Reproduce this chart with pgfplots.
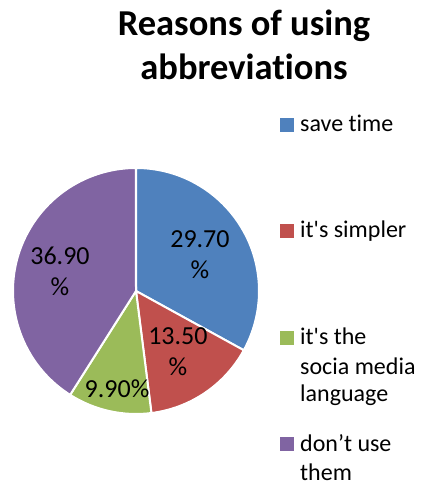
\documentclass[border=0pt]{standalone}
\usepackage{pgfplots}
\pgfplotsset{compat=1.18}
\usepackage{fontspec}
\setmainfont{Carlito}[Ligatures={TeXOff,NoCommon}]
\definecolor{cblue}{HTML}{4F81BD}
\definecolor{cred}{HTML}{C0504D}
\definecolor{cgreen}{HTML}{9BBB59}
\definecolor{cpurple}{HTML}{8064A2}
\begin{document}
\begin{tikzpicture}[x=1pt,y=1pt]
\useasboundingbox (0,0) rectangle (426,485);
% title
\node[anchor=base,font=\fontsize{36.5}{44}\selectfont\bfseries,inner sep=0] at (244,449) {Reasons of using};
\node[anchor=base,font=\fontsize{36.5}{44}\selectfont\bfseries,inner sep=0] at (244,405) {abbreviations};
\begin{axis}[at={(136pt,194pt)}, anchor=center, width=246pt, height=246pt,
  scale only axis, xmin=-1, xmax=1, ymin=-1, ymax=1, hide axis, clip=false]
\def\total{90}
\def\cum{90}
\pgfplotsforeachungrouped \v/\c in {29.7/cblue, 13.5/cred, 9.9/cgreen, 36.9/cpurple}{
  \pgfmathsetmacro\ang{\v/\total*360}
  \pgfmathsetmacro\endang{\cum-\ang}
  \edef\temp{\noexpand\fill[\c, draw=white, line width=2pt, line join=round]
     (axis cs:0,0) -- (axis cs:{cos(\cum)},{sin(\cum)})
     arc[start angle=\cum, end angle=\endang, radius=123pt] -- cycle;}
  \temp
  \global\let\cum\endang
}
\node[align=center,font=\fontsize{26}{31}\selectfont,inner sep=0] at (axis cs:0.52,0.293) {29.70\\\%};
\node[align=center,font=\fontsize{26}{31}\selectfont,inner sep=0] at (axis cs:0.341,-0.496) {13.50\\\%};
\node[align=center,font=\fontsize{26}{31}\selectfont,inner sep=0] at (axis cs:-0.154,-0.797) {9.90\%};
\node[align=center,font=\fontsize{26}{31}\selectfont,inner sep=0] at (axis cs:-0.618,0.163) {36.90\\\%};
\end{axis}
% legend
\fill[cblue] (280,353) rectangle (294,367);
\fill[cred] (280,247) rectangle (294,261);
\fill[cgreen] (280,140) rectangle (294,154);
\fill[cpurple] (280,34) rectangle (294,48);
\begin{scope}[every node/.style={anchor=base west,inner sep=0,font=\fontsize{24}{29}\selectfont}]
\node at (300,353) {save time};
\node at (300,247) {it's simpler};
\node at (300,140) {it's the};
\node at (300,110) {socia media};
\node at (300,83) {language};
\node at (300,34) {don’t use};
\node at (300,5) {them};
\end{scope}
\end{tikzpicture}
\end{document}
